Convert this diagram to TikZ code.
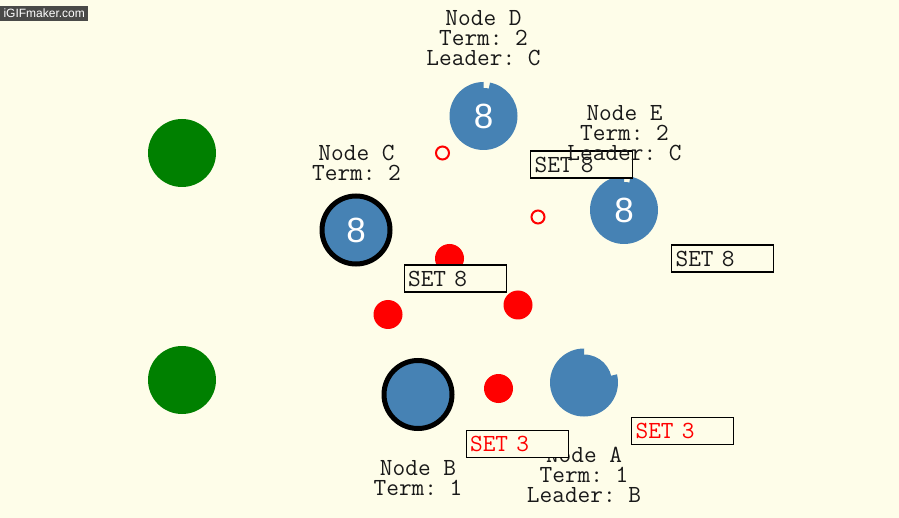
\documentclass[tikz,border=0pt]{standalone}
\usepackage{fontspec}
\newfontfamily\sansf{Liberation Sans}
\definecolor{bg}{RGB}{254,253,233}
\definecolor{steel}{RGB}{70,130,180}
\definecolor{grn}{RGB}{0,128,0}
\definecolor{wm}{RGB}{74,74,72}
\definecolor{ink}{RGB}{25,25,25}
\begin{document}
\begin{tikzpicture}[x=1pt,y=-1pt,
  lbl/.style={anchor=base, inner sep=0pt, text=ink, font=\ttfamily\frenchspacing\fontsize{24.6}{24}\selectfont},
  raft/.style={circle, fill=steel, minimum size=68pt, inner sep=0pt, text=white, font=\sansf\fontsize{35}{35}\selectfont},
  raftin/.style={raft, minimum size=56pt},
  leader/.style={draw=black, line width=5pt, minimum size=68pt},
  client/.style={circle, fill=grn, minimum size=68pt, inner sep=0pt},
  msg/.style={circle, fill=red, minimum size=29pt, inner sep=0pt},
  req/.style={circle, draw=red, line width=2pt, minimum size=13pt, inner sep=0pt},
  setbox/.style={draw=black, line width=1.3pt, fill=bg, anchor=north west, minimum width=102pt, minimum height=27pt, text width=94pt, inner sep=4pt, align=left, font=\ttfamily\frenchspacing\fontsize{24.6}{24}\selectfont}]
\useasboundingbox (0,0) rectangle (899,518);
\fill[bg] (0,0) rectangle (899,518);
% watermark
\node[fill=wm, anchor=north west, minimum width=88pt, minimum height=15pt, inner sep=0pt, text=white, font=\sansf\fontsize{12}{12}\selectfont] (wmk) at (0,6) {iGIFmaker.com};
% clients
\node[client] (cl1) at (182,153) {};
\node[client] (cl2) at (182,380) {};
% server nodes
\coordinate (Dc) at (483.5,116);
\fill[steel] (Dc) -- ([shift={(90:34pt)}]Dc) arc[start angle=90, end angle=439, radius=34pt] -- cycle;
\node[raftin] (D) at (Dc) {8};
\coordinate (Ec) at (624,210);
\fill[steel] (Ec) -- ([shift={(90:34pt)}]Ec) arc[start angle=90, end angle=439, radius=34pt] -- cycle;
\node[raftin] (E) at (Ec) {8};
\coordinate (Ac) at (584,382.5);
\fill[steel] (Ac) -- ([shift={(90:34pt)}]Ac) arc[start angle=90, end angle=374, radius=34pt] -- cycle;
\node[raftin] (A) at (Ac) {};
\node[raft, leader] (C) at (356,230) {8};
\node[raft, leader] (B) at (418,394.5) {};
% messages
\node[req] (r1) at (442.5,153) {};
\node[req] (r2) at (538,217) {};
\node[msg] (m1) at (449.5,258.5) {};
\node[msg] (m2) at (388,314.5) {};
\node[msg] (m3) at (518,305) {};
\node[msg] (m4) at (498.5,388.5) {};
% labels
\node[lbl] (Dl1) at (483.5,26) {Node D};
\node[lbl] (Dl2) at (483.5,46) {Term: 2};
\node[lbl] (Dl3) at (483.5,66) {Leader: C};
\node[lbl] (Cl1) at (356.5,161) {Node C};
\node[lbl] (Cl2) at (356.5,181) {Term: 2};
\node[lbl] (Bl1) at (418,475) {Node B};
\node[lbl] (Bl2) at (418,495) {Term: 1};
\node[lbl] (Al1) at (584,462.5) {Node A};
\node[lbl] (Al2) at (584,482.5) {Term: 1};
\node[lbl] (Al3) at (584,502.5) {Leader: B};
% set boxes
\node[setbox, text=ink] (s1) at (530,150.5) {SET 8};
\node[setbox, text=ink] (s2) at (403.5,264.5) {SET 8};
\node[setbox, text=ink] (s3) at (671,244.5) {SET 8};
\node[setbox, text=red] (s4) at (465.5,429.5) {SET 3};
\node[setbox, text=red] (s5) at (631,416.5) {SET 3};
% node E labels (drawn over box)
\node[lbl] (El1) at (624.5,120.5) {Node E};
\node[lbl] (El2) at (624.5,140.5) {Term: 2};
\node[lbl] (El3) at (624.5,160.5) {Leader: C};
\end{tikzpicture}
\end{document}
